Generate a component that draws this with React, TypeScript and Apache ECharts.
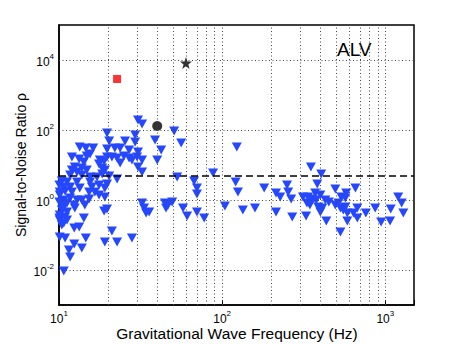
import React, { useEffect, useRef } from "react";
import * as echarts from "echarts";

// [frequency (Hz), SNR]
const triangles: [number, number][] = [
  [19.7, 82], [20.3, 48.5], [25.4, 48.5], [13.4, 32.7], [14.6, 30.6], [16.2, 30.6],
  [19.7, 28.7], [22.0, 30.6], [23.7, 30.6], [26.9, 26.8], [15.5, 20.6], [14.8, 18.1],
  [12.0, 16.9], [13.3, 14.8], [17.8, 13.9], [19.7, 16.9], [21.1, 16.9], [22.7, 15.8],
  [25.0, 18.1], [26.9, 15.8], [23.7, 11.4], [14.2, 12.2], [17.6, 10.7], [18.9, 13.0],
  [12.5, 8.77], [12.0, 7.2], [13.8, 8.21], [12.9, 6.31], [14.8, 7.2], [18.4, 8.21],
  [19.1, 7.2], [11.7, 5.18], [13.8, 5.18], [15.5, 4.54], [17.1, 4.54], [18.4, 5.53],
  [20.3, 4.85], [22.7, 3.98], [10.4, 3.49], [11.2, 3.27], [12.9, 3.27], [10.7, 2.35],
  [11.7, 2.35], [13.4, 2.2], [15.5, 3.27], [15.9, 2.35], [17.6, 2.68], [19.7, 2.87],
  [19.1, 2.2], [10.9, 1.81], [12.0, 1.69], [15.3, 1.69], [16.6, 1.69], [17.6, 1.39],
  [19.1, 1.22], [10.1, 1.39], [10.7, 1.0], [12.9, 1.0], [13.8, 1.0], [15.3, 1.07],
  [14.4, 0.72], [11.2, 0.821], [10.4, 0.72], [12.5, 0.59], [10.4, 0.518], [11.2, 0.454],
  [18.9, 0.485], [19.7, 0.553], [10.1, 0.373], [10.9, 0.327], [14.2, 0.306], [10.1, 0.268],
  [10.7, 0.22], [12.4, 0.159], [13.3, 0.169], [21.1, 0.13], [10.1, 0.0877], [10.9, 0.0821],
  [14.6, 0.0821], [19.1, 0.0631], [22.7, 0.0631], [28.0, 0.0821], [12.4, 0.0553], [13.8, 0.0425],
  [11.5, 0.0373], [11.7, 0.0236], [10.7, 0.0093],
  [10.05, 2.68], [10.1, 1.69], [10.05, 0.877], [10.7, 0.631], [10.05, 0.306], [11.2, 0.268],
  [10.4, 0.193], [11.7, 1.14], [12.4, 0.72],
  [30.5, 193], [32.3, 148], [29.3, 72], [29.3, 45.4], [30.5, 23.5], [30.1, 16.9],
  [32.3, 13.9], [28.0, 13.9], [30.5, 8.77], [32.3, 6.31], [38.8, 51.8], [42.3, 26.8],
  [40.0, 13.9], [50.8, 93.6], [56.1, 42.5], [123, 32.7], [88.0, 5.9], [53.0, 4.54],
  [67.3, 3.49], [121, 3.27], [32.3, 0.821], [33.2, 0.59], [34.2, 0.425], [35.7, 0.454],
  [44.6, 0.821], [46.6, 0.72], [49.4, 0.877], [45.3, 0.59], [57.6, 0.59], [61.0, 0.349],
  [70.1, 0.454], [77.6, 0.306], [70.1, 2.2], [70.1, 1.48], [104, 0.674], [125, 1.69],
  [350, 8.77], [405, 5.53], [134, 0.518], [159, 0.59], [181, 2.2], [214, 1.58],
  [227, 1.22], [250, 2.68], [254, 1.69], [265, 1.07], [214, 0.454], [269, 0.327],
  [327, 0.349], [383, 2.87], [372, 1.58], [313, 1.22], [336, 1.22], [357, 1.07],
  [331, 0.821], [345, 0.72], [388, 0.631], [411, 0.59], [429, 1.0], [451, 0.877],
  [400, 1.39], [400, 0.454], [435, 0.251], [494, 2.06], [537, 1.22], [576, 1.58],
  [569, 1.14], [656, 2.2], [494, 0.72], [516, 0.821], [531, 0.59], [553, 0.518],
  [569, 0.631], [585, 0.425], [585, 0.251], [531, 0.122], [638, 0.425], [674, 0.306],
  [674, 0.59], [760, 0.425], [867, 0.59], [943, 0.235], [1080, 0.553], [1070, 0.251],
  [1200, 1.22], [1260, 0.821], [1290, 0.425], [345, 1.0], [377, 1.0],
];
const redSquare: [number, number][] = [[22.7, 2870]];
const blackStar: [number, number][] = [[60, 8200]];
const blackCircle: [number, number][] = [[40, 130]];
const thresholdSNR = 5;
const xGridValues = [20, 30, 40, 50, 60, 70, 80, 90, 100, 200, 300, 400, 500, 600, 700, 800, 900, 1000];
const yGridValues = [0.01, 1, 100, 10000];
const xTitle = "Gravitational Wave Frequency (Hz)";
const yTitle = "Signal-to-Noise Ratio \u03c1";
const panelLabel = "ALV";

const FONT = "'Liberation Sans', Arial, sans-serif";
const STAR = "path://M0,-10 L2.35,-3.24 L9.51,-3.09 L3.8,1.24 L5.88,8.09 L0,4 L-5.88,8.09 L-3.8,1.24 L-9.51,-3.09 L-2.35,-3.24 Z";

function powLabel(v: number, evenOnly: boolean): string {
  const l = Math.log10(v);
  const e = Math.round(l);
  if (Math.abs(l - e) > 1e-6) return "";
  if (evenOnly && e % 2 !== 0) return "";
  return `{b|10}{s|${e}}`;
}

const rich = {
  b: { fontSize: 12, fontFamily: FONT, color: "#000", verticalAlign: "bottom", lineHeight: 16 },
  s: { fontSize: 8, fontFamily: FONT, color: "#000", verticalAlign: "top", lineHeight: 16 },
};

export default function App() {
  const ref = useRef<HTMLDivElement>(null);
  useEffect(() => {
    if (!ref.current) return;
    const chart = echarts.init(ref.current, undefined, { renderer: "svg" });
    const gridLine = { type: [1, 2.5] as any, color: "#444", width: 1 };
    chart.setOption({
      animation: false,
      backgroundColor: "#fff",
      grid: {
        left: 59, right: 44, top: 25, bottom: 39,
        containLabel: false, outerBoundsMode: "none",
        show: true, borderColor: "#000", borderWidth: 1.5, backgroundColor: "transparent",
      },
      xAxis: {
        type: "log",
        logBase: 10,
        min: 10,
        max: 1500,
        splitLine: { show: false },
        axisLine: { show: true, lineStyle: { color: "#000", width: 1.5 } },
        axisTick: { show: true, inside: true, length: 5, lineStyle: { color: "#000" } },
        axisLabel: { formatter: (v: number) => powLabel(v, false), rich, margin: 4 },
      },
      yAxis: {
        type: "log",
        logBase: 10,
        min: 0.001,
        max: 100000,
        splitLine: { show: false },
        axisLine: { show: true, lineStyle: { color: "#000", width: 1.5 } },
        axisTick: { show: false },
        axisLabel: { formatter: (v: number) => powLabel(v, true), rich, margin: 5 },
      },
      graphic: [
        { type: "text", left: 337, top: 40, style: { text: panelLabel, font: `19px ${FONT}`, fill: "#000" } },
        {
          type: "text", x: 237, y: 333,
          style: { text: xTitle, font: `15.5px ${FONT}`, fill: "#000", align: "center", verticalAlign: "middle" },
        },
        {
          type: "text", x: 21, y: 165, rotation: Math.PI / 2,
          style: { text: yTitle, font: `14px ${FONT}`, fill: "#000", align: "center", verticalAlign: "middle" },
        },
      ],
      series: [
        {
          type: "scatter",
          data: [],
          z: 1,
          silent: true,
          markLine: {
            silent: true,
            symbol: ["none", "none"],
            label: { show: false },
            lineStyle: gridLine,
            data: [
              ...xGridValues.map((v) => ({ xAxis: v })),
              ...yGridValues.map((v) => ({ yAxis: v })),
            ],
          },
        },
        {
          type: "scatter",
          data: [],
          z: 2,
          silent: true,
          markLine: {
            silent: true,
            symbol: ["none", "none"],
            label: { show: false },
            lineStyle: { type: [7, 4] as any, color: "#000", width: 1.5 },
            data: [{ yAxis: thresholdSNR }],
          },
        },
        {
          type: "scatter",
          data: triangles,
          z: 3,
          symbol: "triangle",
          symbolRotate: 180,
          symbolSize: [10, 9],
          itemStyle: { color: "#2447ff", opacity: 1 },
        },
        { type: "scatter", data: redSquare, z: 4, symbol: "rect", symbolSize: 8, itemStyle: { color: "#ff0000" } },
        { type: "scatter", data: blackCircle, z: 4, symbol: "circle", symbolSize: 10, itemStyle: { color: "#000" } },
        { type: "scatter", data: blackStar, z: 4, symbol: STAR, symbolSize: 12, itemStyle: { color: "#000" } },
      ],
    });
    return () => chart.dispose();
  }, []);
  return <div ref={ref} style={{ position: "fixed", left: 0, top: 0, width: 458, height: 344 }} />;
}
